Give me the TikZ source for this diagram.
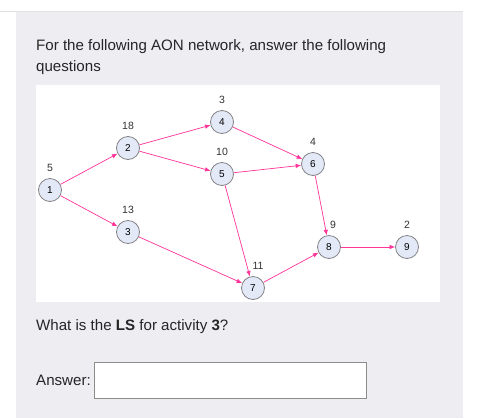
\documentclass[tikz,border=0pt]{standalone}
\usepackage{fontspec}
\setmainfont{Liberation Sans}
\usetikzlibrary{arrows.meta}
\definecolor{panelgray}{RGB}{237,237,242}
\definecolor{edgepink}{RGB}{255,51,153}
\definecolor{nodefill}{RGB}{228,233,247}
\definecolor{nodeline}{RGB}{130,130,135}

\begin{document}
\begin{tikzpicture}[x=1pt,y=-1pt,
		act/.style={circle,draw=nodeline,fill=nodefill,line width=0.8pt,minimum size=23pt,inner sep=0pt,font=\fontsize{10}{12}\selectfont},
		dur/.style={font=\fontsize{10.5}{12}\selectfont,text=black!80},
		link/.style={draw=edgepink,line width=0.7pt,-{Latex[length=5.5pt,width=4.5pt]}},
		qtext/.style={anchor=base west,inner sep=0pt,font=\fontsize{15.1}{18}\selectfont,text=black!85}]
		\useasboundingbox (0,0) rectangle (481,418);
		\fill[white] (0,0) rectangle (481,418);
		\fill[panelgray] (16,11) rectangle (463,418);
		\draw[black!12] (0,11) -- (463,11);
		\fill[white] (36,85) rectangle (440,302);
		\node[qtext] (intro1) at (36,50) {For the following AON network, answer the following};
		\node[qtext] (intro2) at (36,71) {questions};
		% activities: name/x/y/duration/label shift
		\foreach \N/\X/\Y/\D/\S in {1/50/190/5/0, 2/128/148/18/0, 3/128/232/13/0, 4/222/122/3/0, 5/222/174/10/0, 6/313/164/4/0, 7/253/288/11/5, 8/329/247/9/4, 9/407/247/2/0} {
			\node[act] (a\N) at (\X,\Y) {\N};
			\node[dur] (d\N) at ([xshift=\S pt]\X,\Y-22) {\D};
		}
		\foreach \A/\B in {1/2,1/3,2/4,2/5,4/6,5/6,5/7,3/7,6/8,7/8,8/9}
			\draw[link] (a\A) -- (a\B);
		\node[qtext] (quest) at (36,330) {What is the \textbf{LS} for activity \textbf{3}?};
		\node[qtext] (ans) at (36,385) {Answer:};
		\node[draw=black!45,fill=white,line width=0.7pt,minimum width=272pt,minimum height=36pt,inner sep=0pt,anchor=west] (box) at (94,380) {};
	\end{tikzpicture}
\end{document}
